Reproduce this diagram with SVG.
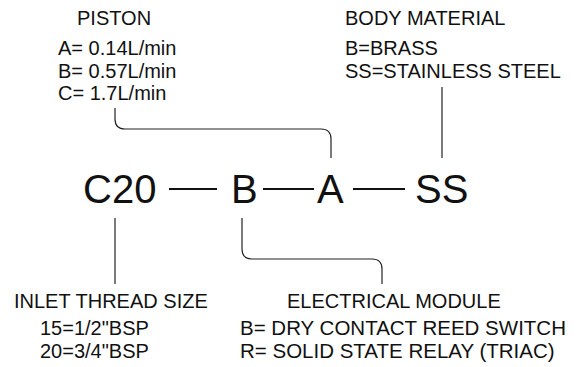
<svg xmlns="http://www.w3.org/2000/svg" width="578" height="367" viewBox="0 0 578 367">
<style>
.lbl{font-family:"Liberation Sans",Arial,sans-serif;font-size:20px;fill:#111}
.wide{font-size:20.5px}
.big{font-family:"Liberation Sans",Arial,sans-serif;font-size:40px;fill:#111}
.ln{fill:none;stroke:#222;stroke-width:1.2}
.dash{fill:none;stroke:#111;stroke-width:2}
</style>
<rect width="578" height="367" fill="#fff"/>
<g id="connectors">
<path class="ln" d="M115,108 V119 Q115,129 125,129 H321 Q331,129 331,139 V158"/>
<path class="ln" d="M442,87 V158"/>
<path class="ln" d="M115,218 V284"/>
<path class="ln" d="M242,218 V249 Q242,259 252,259 H372 Q382,259 382,269 V284"/>
<line class="dash" x1="169" y1="189" x2="217" y2="189"/>
<line class="dash" x1="263" y1="189" x2="314" y2="189"/>
<line class="dash" x1="353" y1="189" x2="405" y2="189"/>
</g>
<g id="piston">
<text class="lbl" x="77" y="25">PISTON</text>
<text class="lbl" x="58" y="55">A= 0.14L/min</text>
<text class="lbl" x="58" y="78">B= 0.57L/min</text>
<text class="lbl" x="58" y="100">C= 1.7L/min</text>
</g>
<g id="body-material">
<text class="lbl" x="345" y="25">BODY MATERIAL</text>
<text class="lbl" x="345" y="55">B=BRASS</text>
<text class="lbl" x="345" y="78">SS=STAINLESS STEEL</text>
</g>
<g id="code-c20"><text class="big" x="83" y="203">C20</text></g>
<g id="code-b"><text class="big" x="231" y="203">B</text></g>
<g id="code-a"><text class="big" x="317" y="203">A</text></g>
<g id="code-ss"><text class="big" x="415" y="203">SS</text></g>
<g id="inlet-thread">
<text class="lbl" x="14" y="308">INLET THREAD SIZE</text>
<text class="lbl" x="40" y="335">15=1/2"BSP</text>
<text class="lbl" x="40" y="358">20=3/4"BSP</text>
</g>
<g id="electrical-module">
<text class="lbl" x="287" y="308">ELECTRICAL MODULE</text>
<text class="lbl wide" x="240" y="335">B= DRY CONTACT REED SWITCH</text>
<text class="lbl wide" x="240" y="358">R= SOLID STATE RELAY (TRIAC)</text>
</g>
</svg>
